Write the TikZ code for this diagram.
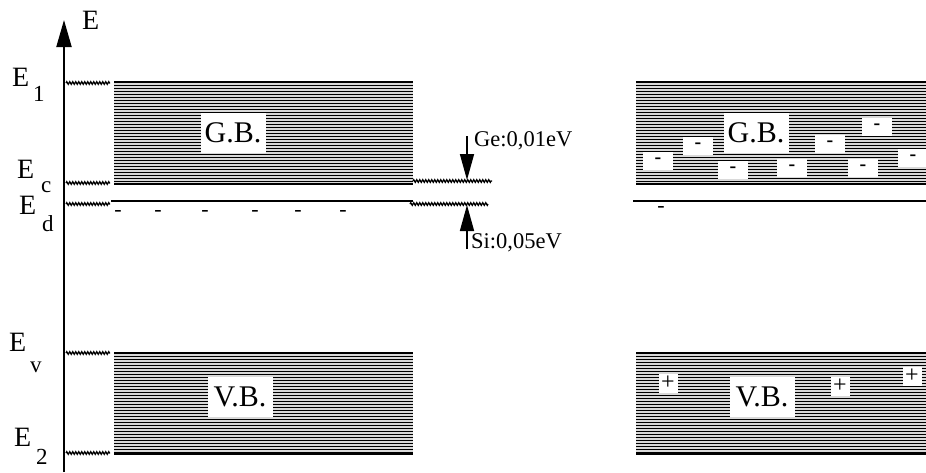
\documentclass[tikz,border=0pt]{standalone}
\usepackage{fontspec}
\setmainfont{Liberation Serif}
\usetikzlibrary{arrows.meta}
\usetikzlibrary{decorations.pathmorphing}

% striped energy band between (#1,#2) and (#3,#4)
\newcommand{\band}[4]{%
  \fill[gray!30] (#1,#2) rectangle (#3,#4);
  \foreach \k in {1,...,33}
    \draw[line width=0.9pt] (#1,#2+3*\k) -- (#3,#2+3*\k);
  \draw[line width=2.2pt] (#1,#2) -- (#3,#2) (#1,#4) -- (#3,#4);}
\newcommand{\bigfont}{\fontsize{28}{28}\selectfont}
\newcommand{\subfont}{\fontsize{23}{23}\selectfont}

\begin{document}
\begin{tikzpicture}[x=1pt,y=-1pt]
\tikzset{every node/.style={inner sep=0pt},
  tag/.style={fill=white,minimum width=65pt,minimum height=40pt,font=\fontsize{30}{30}\selectfont},
  chg/.style={fill=white,minimum width=30pt,minimum height=18pt,font=\fontsize{20}{20}\selectfont\bfseries},
  hole/.style={fill=white,minimum width=19pt,minimum height=19pt,font=\fontsize{24}{24}\selectfont},
  donor/.style={font=\fontsize{22}{22}\selectfont},
  lvl/.style={line width=1.2pt,decorate,decoration={zigzag,segment length=3pt,amplitude=1.4pt}},
  gaparrow/.style={line width=1.6pt,-{Triangle[length=26pt,width=14pt]}},
  gaplabel/.style={anchor=base west,font=\fontsize{22.5}{22.5}\selectfont}}
\useasboundingbox (0,0) rectangle (926,472);

% energy axis
\coordinate (axbot) at (64,472);
\coordinate (axtop) at (64,20);
\draw[line width=2pt,-{Triangle[length=27pt,width=15pt]}] (axbot) -- (axtop);
\node[anchor=base west,font=\bigfont] (elab) at (82,29) {E};

% level names
\node[anchor=base west,font=\bigfont] (e1) at (12,86) {E};
\node[anchor=base west,font=\subfont] (e1s) at (33,101) {1};
\node[anchor=base west,font=\bigfont] (ec) at (17,178) {E};
\node[anchor=base west,font=\subfont] (ecs) at (41,192) {c};
\node[anchor=base west,font=\bigfont] (ed) at (19,214) {E};
\node[anchor=base west,font=\subfont] (eds) at (42,231) {d};
\node[anchor=base west,font=\bigfont] (ev) at (9,351) {E};
\node[anchor=base west,font=\subfont] (evs) at (30,372) {v};
\node[anchor=base west,font=\bigfont] (e2) at (14,446) {E};
\node[anchor=base west,font=\subfont] (e2s) at (36,464) {2};

% marks from the axis
\foreach \yy in {83,183,204,353,453}
  \draw[lvl] (66,\yy) -- (110,\yy);

% bands, left
\band{114}{82}{413}{184}
\band{114}{353}{413}{454}
\draw[line width=2pt] (111,201) -- (413,201);
\node[tag] (gbl) at (233,133) {G.B.};
\node[tag] (vbl) at (240,397) {V.B.};
\foreach \xx in {118,158,205,255,298,343}
  \node[donor] at (\xx,213) {-};

% ionisation energies
\draw[lvl] (413,181) -- (492,181);
\draw[lvl] (410,204) -- (488,204);
\coordinate (getop) at (467,136);
\coordinate (gebot) at (467,180);
\coordinate (sibot) at (467,249);
\coordinate (sitop) at (467,205);
\draw[gaparrow] (getop) -- (gebot);
\draw[gaparrow] (sibot) -- (sitop);
\node[gaplabel] (ge) at (474,146) {Ge:0,01eV};
\node[gaplabel] (si) at (471,248) {Si:0,05eV};

% bands, right
\band{636}{82}{926}{184}
\band{636}{353}{926}{454}
\draw[line width=2pt] (633,201) -- (926,201);
\node[tag] (gbr) at (756,133) {G.B.};
\node[tag] (vbr) at (762,397) {V.B.};
\node[donor] (dr) at (661,209) {-};
\foreach \xx/\yy in {658/161,698/146,733/170,792/168,830/144,863/168,877/127,913/158}
  \node[chg] at (\xx,\yy) {-};
\foreach \xx/\yy in {668/383,840/386,912/376}
  \node[hole] at (\xx,\yy) {+};
\end{tikzpicture}
\end{document}
